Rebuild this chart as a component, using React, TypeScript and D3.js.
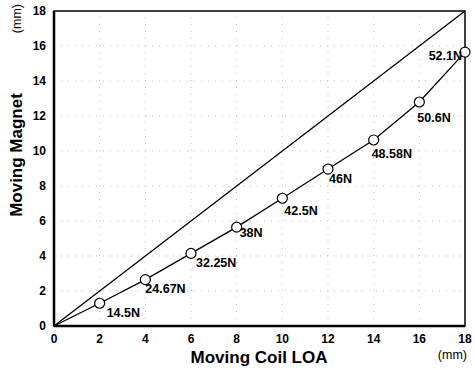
import * as d3 from 'd3';
import { useEffect, useRef } from 'react';

const coilLOA = [0, 2, 4, 6, 8, 10, 12, 14, 16, 18];
const magnetOffset = [0, 1.3, 2.65, 4.15, 5.65, 7.3, 8.97, 10.63, 12.8, 15.65];
const referenceLine = [0, 2, 4, 6, 8, 10, 12, 14, 16, 18];
const forceLabels = ['', '14.5N', '24.67N', '32.25N', '38N', '42.5N', '46N', '48.58N', '50.6N', '52.1N'];
const ticks = [0, 2, 4, 6, 8, 10, 12, 14, 16, 18];

export default function App() {
  const ref = useRef<SVGSVGElement>(null);

  useEffect(() => {
    const width = 475;
    const height = 370;
    const svg = d3.select(ref.current);
    svg.selectAll('*').remove();

    const margin = { top: 11, right: 10, bottom: 44, left: 54 };
    const x = d3.scaleLinear().domain([0, 18]).range([margin.left, width - margin.right]);
    const y = d3.scaleLinear().domain([0, 18]).range([height - margin.bottom, margin.top]);
    const font = 'Liberation Sans, Arial, sans-serif';

    // faint dotted grid
    const grid = svg.append('g').attr('stroke', '#bbb').attr('stroke-width', 1).attr('stroke-dasharray', '1,6');
    ticks.slice(1, -1).forEach((t) => {
      grid.append('line').attr('x1', x(t)).attr('x2', x(t)).attr('y1', y(0)).attr('y2', y(18));
      grid.append('line').attr('x1', x(0)).attr('x2', x(18)).attr('y1', y(t)).attr('y2', y(t));
    });

    // frame
    svg.append('rect')
      .attr('x', x(0)).attr('y', y(18))
      .attr('width', x(18) - x(0)).attr('height', y(0) - y(18))
      .attr('fill', 'none').attr('stroke', '#000').attr('stroke-width', 1.5);
    svg.append('line').attr('x1', x(0)).attr('x2', x(0)).attr('y1', y(0)).attr('y2', y(18))
      .attr('stroke', '#000').attr('stroke-width', 2.5);
    svg.append('line').attr('x1', x(0)).attr('x2', x(18)).attr('y1', y(0)).attr('y2', y(0))
      .attr('stroke', '#000').attr('stroke-width', 2.5);

    // tick labels
    svg.append('g').selectAll('text').data(ticks).enter().append('text')
      .attr('x', (d) => x(d)).attr('y', y(0) + 17)
      .attr('text-anchor', 'middle').attr('font-family', font).attr('font-weight', 'bold')
      .attr('font-size', 12).text((d) => d);
    svg.append('g').selectAll('text').data(ticks).enter().append('text')
      .attr('x', x(0) - 8).attr('y', (d) => y(d) + 4)
      .attr('text-anchor', 'end').attr('font-family', font).attr('font-weight', 'bold')
      .attr('font-size', 12).text((d) => d);

    const line = d3.line<number>().x((d, i) => x(coilLOA[i])).y((d) => y(d));
    svg.append('path').attr('d', line(referenceLine)).attr('fill', 'none').attr('stroke', '#000').attr('stroke-width', 1.3);
    svg.append('path').attr('d', line(magnetOffset)).attr('fill', 'none').attr('stroke', '#000').attr('stroke-width', 1.3);

    svg.append('g').selectAll('circle').data(magnetOffset.slice(1)).enter().append('circle')
      .attr('cx', (d, i) => x(coilLOA[i + 1])).attr('cy', (d) => y(d)).attr('r', 5)
      .attr('fill', '#fff').attr('stroke', '#000').attr('stroke-width', 1.2);

    // label offsets (dx, dy, anchor)
    const offs: [number, number, string][] = [
      [0, 0, 'start'], [7, 14, 'start'], [0, 13, 'start'], [5, 14, 'start'], [3, 10, 'start'],
      [2, 17, 'start'], [1, 14, 'start'], [-2, 18, 'start'], [-2, 20, 'start'], [-3, 8, 'end'],
    ];
    svg.append('g').selectAll('text').data(forceLabels).enter().append('text')
      .attr('x', (d, i) => x(coilLOA[i]) + offs[i][0])
      .attr('y', (d, i) => y(magnetOffset[i]) + offs[i][1])
      .attr('text-anchor', (d, i) => offs[i][2])
      .attr('font-family', font).attr('font-weight', 'bold').attr('font-size', 12.5)
      .text((d) => d);

    // axis titles
    svg.append('text').attr('x', 259).attr('y', 363).attr('text-anchor', 'middle')
      .attr('font-family', font).attr('font-weight', 'bold').attr('font-size', 17).text('Moving Coil LOA');
    svg.append('text').attr('x', 467).attr('y', 359).attr('text-anchor', 'end')
      .attr('font-family', font).attr('font-size', 12.5).text('(mm)');
    svg.append('text').attr('transform', 'translate(22,155) rotate(-90)').attr('text-anchor', 'middle')
      .attr('font-family', font).attr('font-weight', 'bold').attr('font-size', 17).text('Moving Magnet');
    svg.append('text').attr('transform', 'translate(21,4) rotate(-90)').attr('text-anchor', 'end')
      .attr('font-family', font).attr('font-size', 12.5).text('(mm)');
  }, []);

  return (
    <div style={{ position: 'absolute', left: 0, top: 0, background: '#fff' }}>
      <svg ref={ref} width={475} height={370} style={{ display: 'block' }}></svg>
    </div>
  );
}
